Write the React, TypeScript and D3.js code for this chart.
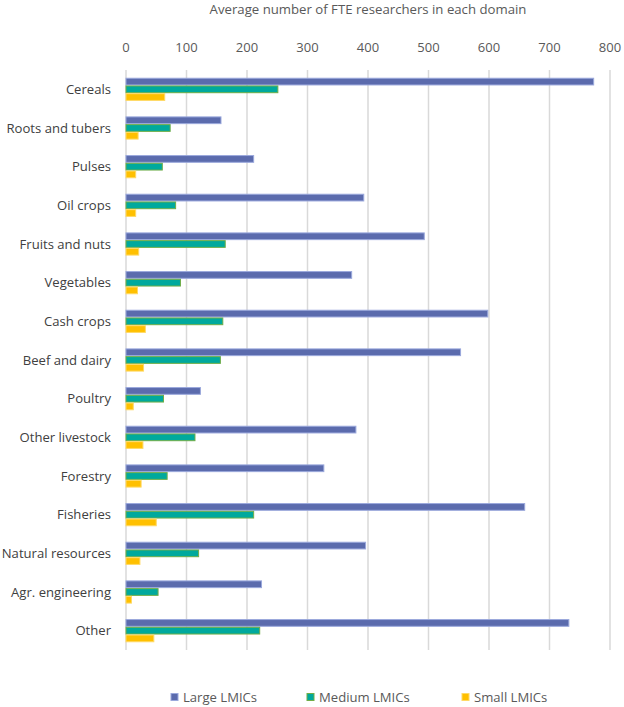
import React from 'react';
import * as d3 from 'd3';

// Data
const categories = [
  'Cereals', 'Roots and tubers', 'Pulses', 'Oil crops', 'Fruits and nuts',
  'Vegetables', 'Cash crops', 'Beef and dairy', 'Poultry', 'Other livestock',
  'Forestry', 'Fisheries', 'Natural resources', 'Agr. engineering', 'Other',
];
const largeLMICs = [773, 157, 211, 393, 493, 373, 598, 553, 123, 380, 327, 659, 396, 224, 732];
const mediumLMICs = [251, 73, 60, 82, 164, 90, 160, 156, 62, 114, 68, 211, 120, 53, 221];
const smallLMICs = [64, 20, 16, 16, 21, 19, 32, 29, 12, 28, 25, 50, 23, 9, 46];
const seriesNames = ['Large LMICs', 'Medium LMICs', 'Small LMICs'];
const xTicks = [0, 100, 200, 300, 400, 500, 600, 700, 800];

const fills = ['#5B6BAD', '#00A99D', '#FFC000'];
const strokes = ['#9AA8DC', '#70AD47', '#FFD966'];

const width = 624;
const height = 707;
const margin = { top: 70, right: 14, bottom: 57, left: 126 };
const font = "'Open Sans', 'Noto Sans', sans-serif";

export default function App() {
  const series = [largeLMICs, mediumLMICs, smallLMICs];

  const x = d3.scaleLinear()
    .domain([0, 800])
    .range([margin.left, width - margin.right]);

  const y = d3.scaleBand<string>()
    .domain(categories)
    .range([margin.top, height - margin.bottom])
    .paddingInner(0.4)
    .paddingOuter(0.2);

  const ySub = d3.scaleBand<string>()
    .domain(seriesNames)
    .range([0, y.bandwidth()]);

  const legendX = [171, 307, 462];

  return (
    <div>
      <style>{'html,body{margin:0;padding:0;overflow:hidden}'}</style>
      <svg width={width} height={height} style={{ display: 'block', background: '#fff' }} fontFamily={font}>
        {/* title */}
        <text x={(x(0) + x(800)) / 2} y={13.5} textAnchor="middle" fontSize={13.2} fill="#595959">
          Average number of FTE researchers in each domain
        </text>

        {/* gridlines + tick labels */}
        {xTicks.map(t => (
          <g key={t}>
            <line x1={x(t)} x2={x(t)} y1={margin.top} y2={height - margin.bottom}
              stroke="#D9D9D9" strokeWidth={1.5} />
            <text x={x(t)} y={52} textAnchor="middle" fontSize={13} fill="#595959">{t}</text>
          </g>
        ))}

        {/* bars */}
        {categories.map((c, i) => (
          <g key={c} transform={`translate(0,${y(c)})`}>
            {series.map((s, k) => (
              <rect key={k}
                x={x(0)}
                y={ySub(seriesNames[k])! + 0.5}
                width={x(s[i]) - x(0)}
                height={ySub.bandwidth() - 1}
                fill={fills[k]}
                stroke={strokes[k]}
                strokeWidth={1} />
            ))}
            <text x={111} y={y.bandwidth() / 2} dy="0.35em" textAnchor="end" fontSize={13.1} fill="#404040">
              {c}
            </text>
          </g>
        ))}

        {/* legend */}
        {seriesNames.map((n, k) => (
          <g key={n} transform={`translate(${legendX[k]},697)`}>
            <rect x={0} y={-3.5} width={7} height={7} fill={fills[k]} stroke={strokes[k]} strokeWidth={1} />
            <text x={12} y={0} dy="0.35em" fontSize={13.1} fill="#595959">{n}</text>
          </g>
        ))}
      </svg>
    </div>
  );
}
